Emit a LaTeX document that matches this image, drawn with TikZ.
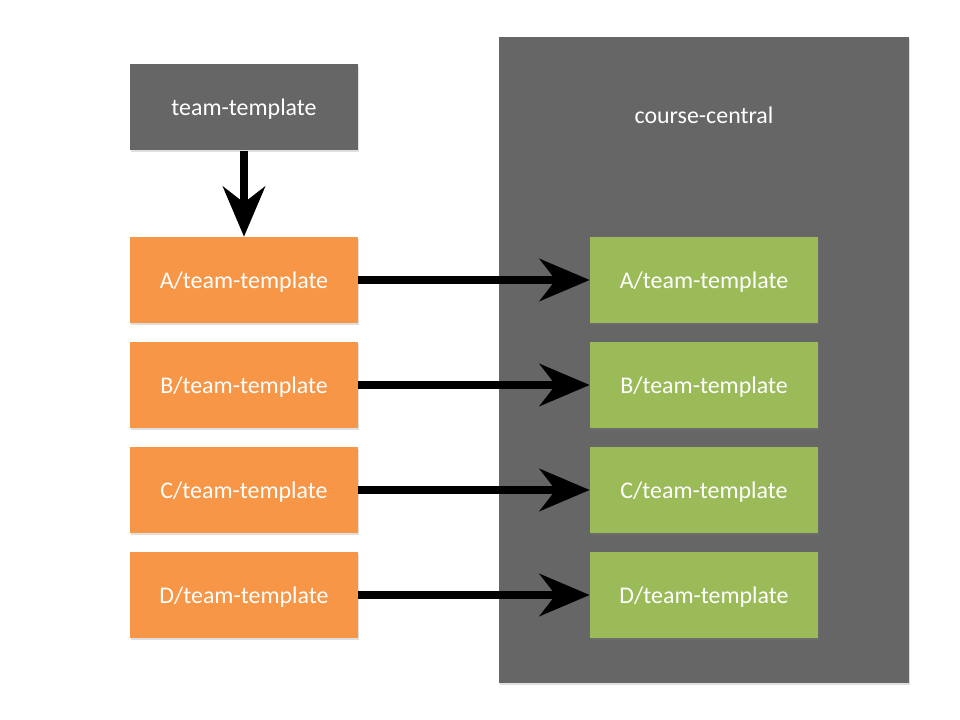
\documentclass[tikz,border=0pt]{standalone}
\usepackage{fontspec}
\setmainfont{Carlito}
\usepackage{xcolor}
\usetikzlibrary{arrows.meta,shadows}
\definecolor{boxgray}{HTML}{666666}
\definecolor{boxorange}{HTML}{F79646}
\definecolor{boxgreen}{HTML}{9BBB59}
\tikzset{
    repobox/.style={minimum width=228*0.025cm, minimum height=86*0.025cm,
        inner sep=0pt, text depth=0pt, text=white, font=\fontsize{17}{20}\selectfont,
        drop shadow={shadow xshift=0.4pt, shadow yshift=-1.2pt, opacity=0.25}},
    fatarrow/.style={line width=0.2cm,
        -{Stealth[length=1.25cm, width=1.05cm, inset=0.4cm]}}
}
\begin{document}
\begin{tikzpicture}[x=0.025cm, y=-0.025cm]
        \useasboundingbox (0,0) rectangle (960,720);
        \fill[boxgray, drop shadow={shadow xshift=0.5pt, shadow yshift=-1.5pt, opacity=0.25}]
            (499,37) rectangle (909,683);
        \node[text=white, text depth=0pt, font=\fontsize{17}{20}\selectfont] (central) at (704,115) {course-central};
        \node[repobox, fill=boxgray] (template) at (244,107.5) {team-template};
        \foreach \t/\y in {A/280, B/385, C/490, D/595} {
            \node[repobox, fill=boxorange] (fork\t) at (244,\y) {\t/team-template};
            \node[repobox, fill=boxgreen] (copy\t) at (704,\y) {\t/team-template};
            \draw[fatarrow] (fork\t) -- (copy\t);
        }
        \draw[fatarrow] (template) -- (forkA);
    \end{tikzpicture}
\end{document}
